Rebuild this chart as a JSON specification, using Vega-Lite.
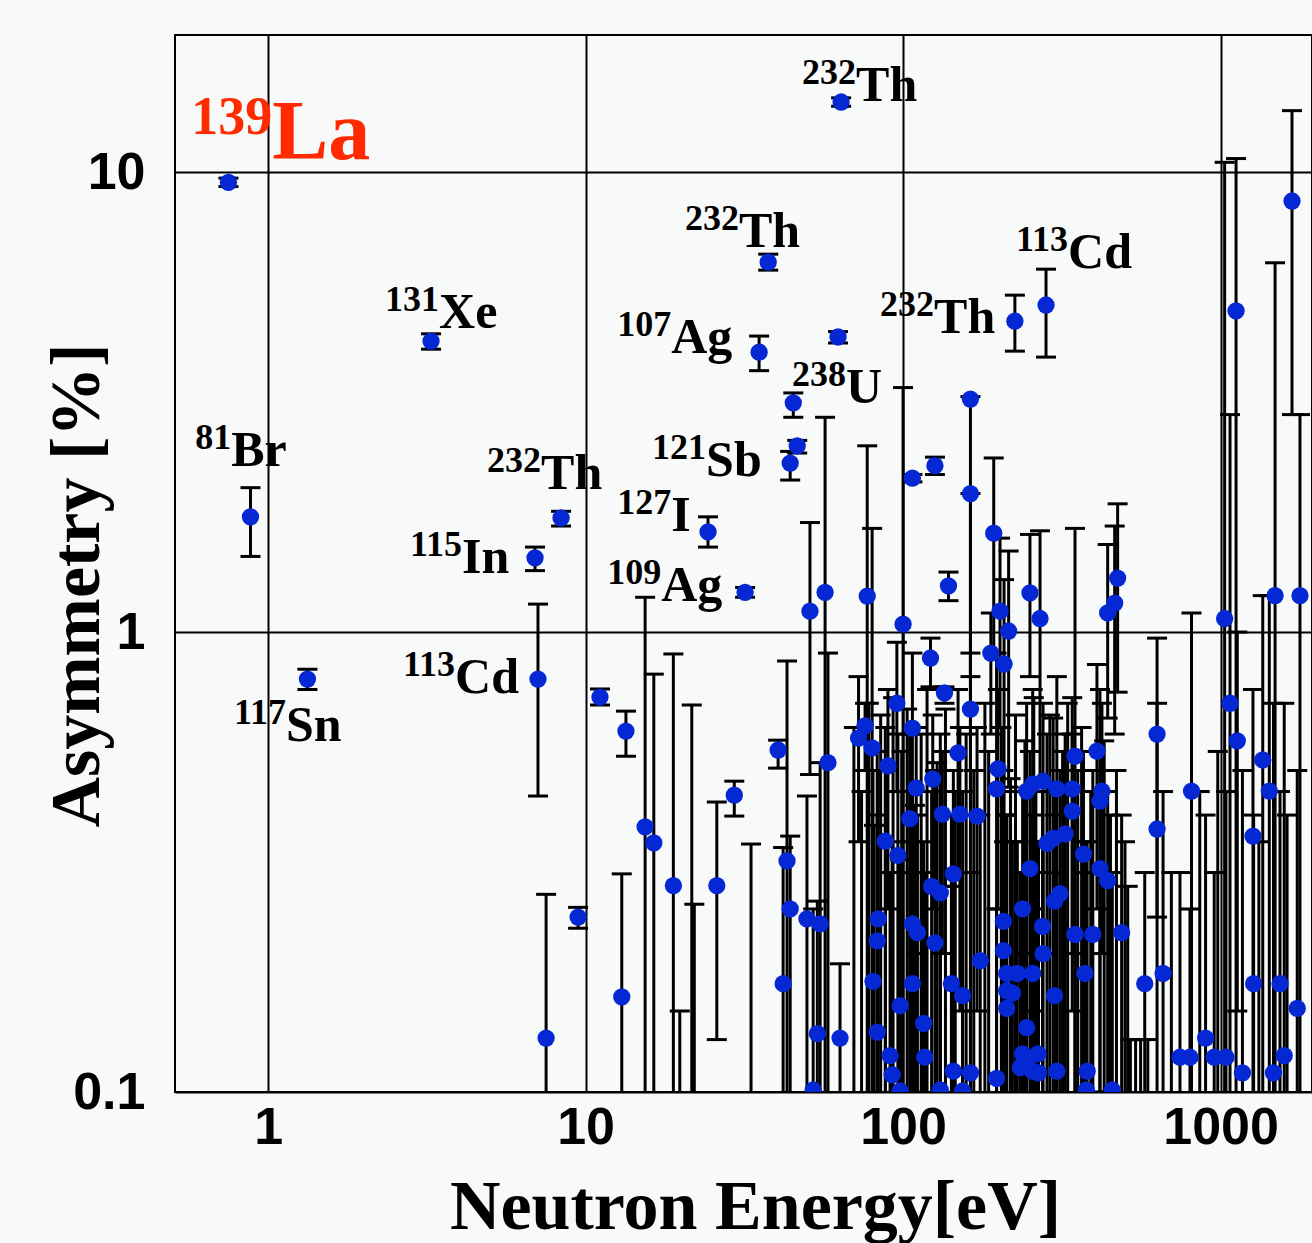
{
  "$schema": "https://vega.github.io/schema/vega-lite/v6.json",
  "width": 1137,
  "height": 1057,
  "autosize": {"type": "none"},
  "padding": {"left": 175, "top": 35, "right": 0, "bottom": 151},
  "background": "#f8f9f9",
  "config": {
    "view": {"stroke": "black", "strokeWidth": 2, "fill": "#f8f9f9"},
    "axis": {"labelOverlap": false}
  },
  "datasets": {
    "pts": [
      {"E":0.75,"A":9.5,"hi":9.7,"lo":9.3},
      {"E":0.88,"A":1.78,"hi":2.06,"lo":1.46},
      {"E":1.33,"A":0.79,"hi":0.83,"lo":0.75},
      {"E":3.26,"A":4.29,"hi":4.45,"lo":4.12},
      {"E":6.93,"A":1.45,"hi":1.53,"lo":1.36},
      {"E":8.37,"A":1.77,"hi":1.83,"lo":1.70},
      {"E":7.08,"A":0.79,"hi":1.15,"lo":0.44},
      {"E":31.8,"A":1.22,"hi":1.25,"lo":1.19},
      {"E":24.3,"A":1.65,"hi":1.78,"lo":1.53},
      {"E":35.2,"A":4.06,"hi":4.40,"lo":3.70},
      {"E":37.6,"A":6.37,"hi":6.63,"lo":6.12},
      {"E":63.8,"A":14.2,"hi":14.5,"lo":13.9},
      {"E":62.4,"A":4.38,"hi":4.5,"lo":4.25},
      {"E":45.1,"A":3.15,"hi":3.31,"lo":2.93},
      {"E":46.4,"A":2.54,"hi":2.61,"lo":2.45},
      {"E":44.1,"A":2.33,"hi":2.47,"lo":2.14},
      {"E":225,"A":4.74,"hi":5.40,"lo":4.08},
      {"E":282,"A":5.14,"hi":6.15,"lo":3.96},
      {"E":11.1,"A":0.722,"hi":0.752,"lo":0.694},
      {"E":13.4,"A":0.609,"hi":0.673,"lo":0.537},
      {"E":9.47,"A":0.240,"hi":0.252,"lo":0.227},
      {"E":7.51,"A":0.131,"hi":0.269,"lo":0.01},
      {"E":13.0,"A":0.161,"hi":0.298,"lo":0.01},
      {"E":15.4,"A":0.377,"hi":1.19,"lo":0.01},
      {"E":16.4,"A":0.348,"hi":0.81,"lo":0.01},
      {"E":18.9,"A":0.281,"hi":0.896,"lo":0.01},
      {"E":25.9,"A":0.281,"hi":0.427,"lo":0.130},
      {"E":29.4,"A":0.442,"hi":0.474,"lo":0.398},
      {"E":21.6,"A":0.05,"hi":0.694,"lo":0.01},
      {"E":22.0,"A":0.05,"hi":0.256,"lo":0.01},
      {"E":19.8,"A":0.05,"hi":0.150,"lo":0.01},
      {"E":33.2,"A":0.05,"hi":0.346,"lo":0.01},
      {"E":40.4,"A":0.554,"hi":0.582,"lo":0.506},
      {"E":43.1,"A":0.318,"hi":0.865,"lo":0.01},
      {"E":44.1,"A":0.25,"hi":0.36,"lo":0.01},
      {"E":49.8,"A":0.238,"hi":0.44,"lo":0.01},
      {"E":54.8,"A":0.232,"hi":0.52,"lo":0.01},
      {"E":41.9,"A":0.172,"hi":0.34,"lo":0.01},
      {"E":53.7,"A":0.134,"hi":0.26,"lo":0.01},
      {"E":63.3,"A":0.131,"hi":0.19,"lo":0.01},
      {"E":52.1,"A":0.101,"hi":0.25,"lo":0.01},
      {"E":50.9,"A":1.11,"hi":1.73,"lo":0.49},
      {"E":56.8,"A":1.22,"hi":2.93,"lo":0.01},
      {"E":58.0,"A":0.52,"hi":0.9,"lo":0.01},
      {"E":75.9,"A":0.625,"hi":0.70,"lo":0.50},
      {"E":72.4,"A":0.588,"hi":0.80,"lo":0.35},
      {"E":79.9,"A":0.56,"hi":1.68,"lo":0.01},
      {"E":77.1,"A":1.197,"hi":2.54,"lo":0.01},
      {"E":100,"A":1.04,"hi":3.4,"lo":0.01},
      {"E":95.6,"A":0.70,"hi":0.95,"lo":0.45},
      {"E":107,"A":0.618,"hi":0.9,"lo":0.3},
      {"E":89.6,"A":0.512,"hi":0.75,"lo":0.25},
      {"E":163,"A":3.21,"hi":3.25,"lo":0.01},
      {"E":163,"A":2.0,"hi":2.0,"lo":0.8},
      {"E":163,"A":0.68,"hi":0.9,"lo":0.4},
      {"E":149,"A":0.546,"hi":0.75,"lo":0.3},
      {"E":110,"A":0.458,"hi":0.62,"lo":0.2},
      {"E":124,"A":0.479,"hi":0.66,"lo":0.25},
      {"E":105,"A":0.393,"hi":0.6,"lo":0.1},
      {"E":87.9,"A":0.351,"hi":0.62,"lo":0.01},
      {"E":96.3,"A":0.327,"hi":0.6,"lo":0.01},
      {"E":133,"A":0.402,"hi":0.55,"lo":0.2},
      {"E":151,"A":0.402,"hi":0.62,"lo":0.15},
      {"E":171,"A":0.398,"hi":0.62,"lo":0.15},
      {"E":199,"A":0.504,"hi":0.75,"lo":0.25},
      {"E":197,"A":0.456,"hi":0.9,"lo":0.01},
      {"E":144,"A":0.298,"hi":0.5,"lo":0.01},
      {"E":123,"A":0.28,"hi":0.45,"lo":0.01},
      {"E":131,"A":0.271,"hi":0.6,"lo":0.01},
      {"E":245,"A":0.451,"hi":0.7,"lo":0.2},
      {"E":251,"A":0.306,"hi":0.55,"lo":0.05},
      {"E":83.5,"A":0.238,"hi":0.5,"lo":0.01},
      {"E":107,"A":0.232,"hi":0.45,"lo":0.01},
      {"E":82.9,"A":0.213,"hi":0.55,"lo":0.01},
      {"E":111,"A":0.222,"hi":0.4,"lo":0.01},
      {"E":126,"A":0.211,"hi":0.5,"lo":0.01},
      {"E":207,"A":0.235,"hi":0.5,"lo":0.01},
      {"E":238,"A":0.25,"hi":0.45,"lo":0.01},
      {"E":175,"A":0.193,"hi":0.4,"lo":0.01},
      {"E":207,"A":0.203,"hi":0.45,"lo":0.01},
      {"E":229,"A":0.181,"hi":0.35,"lo":0.01},
      {"E":80.4,"A":0.174,"hi":0.5,"lo":0.01},
      {"E":107,"A":0.172,"hi":0.35,"lo":0.01},
      {"E":142,"A":0.172,"hi":0.4,"lo":0.01},
      {"E":154,"A":0.162,"hi":0.45,"lo":0.01},
      {"E":97.9,"A":0.154,"hi":0.3,"lo":0.01},
      {"E":116,"A":0.141,"hi":0.35,"lo":0.01},
      {"E":82.9,"A":0.135,"hi":0.4,"lo":0.01},
      {"E":245,"A":0.138,"hi":0.3,"lo":0.01},
      {"E":91,"A":0.12,"hi":0.3,"lo":0.01},
      {"E":117,"A":0.119,"hi":0.3,"lo":0.01},
      {"E":92.4,"A":0.109,"hi":0.35,"lo":0.01},
      {"E":144,"A":0.111,"hi":0.28,"lo":0.01},
      {"E":163,"A":0.11,"hi":0.3,"lo":0.01},
      {"E":197,"A":0.107,"hi":0.25,"lo":0.01},
      {"E":245,"A":0.115,"hi":0.3,"lo":0.01},
      {"E":97.9,"A":0.1005,"hi":0.32,"lo":0.01},
      {"E":131,"A":0.101,"hi":0.28,"lo":0.01},
      {"E":154,"A":0.1005,"hi":0.3,"lo":0.01},
      {"E":256,"A":0.111,"hi":0.25,"lo":0.01},
      {"E":212,"A":0.166,"hi":0.4,"lo":0.01},
      {"E":107,"A":2.16,"hi":2.2,"lo":2.12},
      {"E":126,"A":2.3,"hi":2.4,"lo":2.2},
      {"E":193,"A":1.64,"hi":2.39,"lo":0.9},
      {"E":139,"A":1.26,"hi":1.35,"lo":1.17},
      {"E":202,"A":1.11,"hi":1.6,"lo":0.62},
      {"E":215,"A":1.005,"hi":1.5,"lo":0.46},
      {"E":122,"A":0.878,"hi":0.97,"lo":0.76},
      {"E":135,"A":0.737,"hi":0.76,"lo":0.70},
      {"E":189,"A":0.9,"hi":1.1,"lo":0.6},
      {"E":208,"A":0.852,"hi":1.3,"lo":0.35},
      {"E":251,"A":1.216,"hi":1.63,"lo":0.8},
      {"E":270,"A":1.07,"hi":1.66,"lo":0.48},
      {"E":474,"A":1.31,"hi":1.9,"lo":0.74},
      {"E":464,"A":1.156,"hi":1.7,"lo":0.6},
      {"E":441,"A":1.1,"hi":1.55,"lo":0.65},
      {"E":1030,"A":1.07,"hi":10.5,"lo":0.01},
      {"E":1119,"A":4.99,"hi":10.7,"lo":0.01},
      {"E":1679,"A":8.65,"hi":13.6,"lo":2.97},
      {"E":1485,"A":1.2,"hi":6.35,"lo":0.01},
      {"E":1779,"A":1.2,"hi":2.97,"lo":0.01},
      {"E":1071,"A":0.70,"hi":2.97,"lo":0.01},
      {"E":1129,"A":0.58,"hi":1.0,"lo":0.15},
      {"E":1358,"A":0.527,"hi":1.2,"lo":0.01},
      {"E":1424,"A":0.451,"hi":1.2,"lo":0.01},
      {"E":1265,"A":0.36,"hi":0.75,"lo":0.01},
      {"E":631,"A":0.60,"hi":0.97,"lo":0.24},
      {"E":631,"A":0.373,"hi":0.70,"lo":0.05},
      {"E":810,"A":0.451,"hi":1.1,"lo":0.01},
      {"E":577,"A":0.172,"hi":0.30,"lo":0.05},
      {"E":659,"A":0.181,"hi":0.45,"lo":0.01},
      {"E":1271,"A":0.172,"hi":0.4,"lo":0.01},
      {"E":1539,"A":0.172,"hi":0.45,"lo":0.01},
      {"E":1744,"A":0.152,"hi":0.5,"lo":0.01},
      {"E":897,"A":0.131,"hi":0.4,"lo":0.01},
      {"E":745,"A":0.119,"hi":0.3,"lo":0.01},
      {"E":801,"A":0.119,"hi":0.25,"lo":0.01},
      {"E":955,"A":0.119,"hi":0.3,"lo":0.01},
      {"E":1040,"A":0.119,"hi":0.45,"lo":0.01},
      {"E":1172,"A":0.11,"hi":0.5,"lo":0.01},
      {"E":1468,"A":0.11,"hi":0.7,"lo":0.01},
      {"E":1587,"A":0.12,"hi":0.7,"lo":0.01},
      {"E":348,"A":0.537,"hi":1.68,"lo":0.01},
      {"E":408,"A":0.551,"hi":0.85,"lo":0.25},
      {"E":256,"A":0.467,"hi":0.75,"lo":0.15},
      {"E":276,"A":0.474,"hi":0.7,"lo":0.2},
      {"E":305,"A":0.456,"hi":0.8,"lo":0.1},
      {"E":341,"A":0.456,"hi":0.72,"lo":0.15},
      {"E":423,"A":0.451,"hi":0.7,"lo":0.2},
      {"E":417,"A":0.429,"hi":0.75,"lo":0.1},
      {"E":341,"A":0.408,"hi":0.6,"lo":0.2},
      {"E":297,"A":0.356,"hi":0.65,"lo":0.01},
      {"E":324,"A":0.364,"hi":0.6,"lo":0.05},
      {"E":284,"A":0.347,"hi":0.6,"lo":0.01},
      {"E":370,"A":0.329,"hi":0.55,"lo":0.05},
      {"E":417,"A":0.306,"hi":0.5,"lo":0.05},
      {"E":441,"A":0.288,"hi":0.45,"lo":0.1},
      {"E":312,"A":0.27,"hi":0.5,"lo":0.01},
      {"E":300,"A":0.26,"hi":0.45,"lo":0.01},
      {"E":275,"A":0.229,"hi":0.45,"lo":0.01},
      {"E":348,"A":0.22,"hi":0.45,"lo":0.01},
      {"E":396,"A":0.22,"hi":0.5,"lo":0.01},
      {"E":488,"A":0.222,"hi":0.4,"lo":0.05},
      {"E":276,"A":0.2,"hi":0.35,"lo":0.01},
      {"E":212,"A":0.181,"hi":0.4,"lo":0.01},
      {"E":256,"A":0.181,"hi":0.4,"lo":0.01},
      {"E":374,"A":0.181,"hi":0.35,"lo":0.01},
      {"E":221,"A":0.164,"hi":0.35,"lo":0.01},
      {"E":212,"A":0.152,"hi":0.4,"lo":0.01},
      {"E":300,"A":0.162,"hi":0.4,"lo":0.01},
      {"E":238,"A":0.121,"hi":0.3,"lo":0.01},
      {"E":266,"A":0.121,"hi":0.3,"lo":0.01},
      {"E":305,"A":0.111,"hi":0.3,"lo":0.01},
      {"E":267,"A":0.11,"hi":0.35,"lo":0.01},
      {"E":234,"A":0.113,"hi":0.3,"lo":0.01},
      {"E":380,"A":0.111,"hi":0.35,"lo":0.01},
      {"E":378,"A":0.101,"hi":0.3,"lo":0.01},
      {"E":456,"A":0.101,"hi":0.3,"lo":0.01},
      {"E":520,"A":0.05,"hi":0.13,"lo":0.01},
      {"E":540,"A":0.05,"hi":0.13,"lo":0.01},
      {"E":560,"A":0.05,"hi":0.13,"lo":0.01},
      {"E":590,"A":0.05,"hi":0.13,"lo":0.01},
      {"E":700,"A":0.05,"hi":0.3,"lo":0.01},
      {"E":860,"A":0.05,"hi":0.45,"lo":0.01},
      {"E":980,"A":0.05,"hi":0.55,"lo":0.01},
      {"E":1320,"A":0.05,"hi":0.35,"lo":0.01},
      {"E":1620,"A":0.05,"hi":0.4,"lo":0.01},
      {"E":70,"A":0.05,"hi":0.62,"lo":0.01},
      {"E":74,"A":0.05,"hi":0.45,"lo":0.01},
      {"E":78,"A":0.05,"hi":0.7,"lo":0.01},
      {"E":81,"A":0.05,"hi":0.38,"lo":0.01},
      {"E":85,"A":0.05,"hi":0.66,"lo":0.01},
      {"E":88,"A":0.05,"hi":0.5,"lo":0.01},
      {"E":93,"A":0.05,"hi":0.72,"lo":0.01},
      {"E":99,"A":0.05,"hi":0.55,"lo":0.01},
      {"E":103,"A":0.05,"hi":0.68,"lo":0.01},
      {"E":109,"A":0.05,"hi":0.42,"lo":0.01},
      {"E":114,"A":0.05,"hi":0.6,"lo":0.01},
      {"E":119,"A":0.05,"hi":0.75,"lo":0.01},
      {"E":128,"A":0.05,"hi":0.52,"lo":0.01},
      {"E":136,"A":0.05,"hi":0.68,"lo":0.01},
      {"E":146,"A":0.05,"hi":0.45,"lo":0.01},
      {"E":158,"A":0.05,"hi":0.6,"lo":0.01},
      {"E":167,"A":0.05,"hi":0.5,"lo":0.01},
      {"E":181,"A":0.05,"hi":0.7,"lo":0.01},
      {"E":186,"A":0.05,"hi":0.55,"lo":0.01},
      {"E":204,"A":0.05,"hi":0.62,"lo":0.01},
      {"E":218,"A":0.05,"hi":0.48,"lo":0.01},
      {"E":226,"A":0.05,"hi":0.66,"lo":0.01},
      {"E":242,"A":0.05,"hi":0.58,"lo":0.01},
      {"E":258,"A":0.05,"hi":0.72,"lo":0.01},
      {"E":262,"A":0.05,"hi":0.45,"lo":0.01},
      {"E":290,"A":0.05,"hi":0.66,"lo":0.01},
      {"E":318,"A":0.05,"hi":0.55,"lo":0.01},
      {"E":330,"A":0.05,"hi":0.7,"lo":0.01},
      {"E":355,"A":0.05,"hi":0.5,"lo":0.01},
      {"E":365,"A":0.05,"hi":0.62,"lo":0.01},
      {"E":390,"A":0.05,"hi":0.45,"lo":0.01},
      {"E":430,"A":0.05,"hi":0.58,"lo":0.01},
      {"E":450,"A":0.05,"hi":0.4,"lo":0.01},
      {"E":470,"A":0.05,"hi":0.5,"lo":0.01},
      {"E":500,"A":0.05,"hi":0.35,"lo":0.01},
      {"E":510,"A":0.05,"hi":0.28,"lo":0.01}
    ],
    "labels": [
      {"E":0.765,"A":2.296,"sup":"81","el":"Br","red":false},
      {"E":1.139,"A":0.579,"sup":"117","el":"Sn","red":false},
      {"E":3.456,"A":4.58,"sup":"131","el":"Xe","red":false},
      {"E":7.24,"A":2.046,"sup":"232","el":"Th","red":false},
      {"E":4.08,"A":1.344,"sup":"115","el":"In","red":false},
      {"E":3.88,"A":0.737,"sup":"113","el":"Cd","red":false},
      {"E":30.4,"A":6.87,"sup":"232","el":"Th","red":false},
      {"E":18.6,"A":4.04,"sup":"107","el":"Ag","red":false},
      {"E":66.1,"A":3.15,"sup":"238","el":"U","red":false},
      {"E":23.96,"A":2.18,"sup":"121","el":"Sb","red":false},
      {"E":18.6,"A":1.658,"sup":"127","el":"I","red":false},
      {"E":17.3,"A":1.168,"sup":"109","el":"Ag","red":false},
      {"E":71.1,"A":14.27,"sup":"232","el":"Th","red":false},
      {"E":125.2,"A":4.467,"sup":"232","el":"Th","red":false},
      {"E":331,"A":6.18,"sup":"113","el":"Cd","red":false},
      {"E":1.03,"A":10.67,"sup":"139","el":"La","red":true}
    ]
  },
  "encoding": {
    "x": {
      "field": "E", "type": "quantitative",
      "scale": {"type": "log", "domain": [0.509, 1941], "nice": false},
      "axis": {
        "orient": "bottom", "values": [1, 10, 100, 1000], "format": "~g",
        "grid": true, "gridColor": "black", "gridWidth": 2, "gridOpacity": 1,
        "ticks": false, "domain": false,
        "labelFont": "Liberation Sans", "labelFontWeight": "bold", "labelFontSize": 52,
        "labelColor": "black", "labelPadding": 10, "labelFlush": false,
        "title": "Neutron Energy[eV]", "titleFont": "Liberation Serif", "titleFontSize": 70,
        "titleFontWeight": "bold", "titleColor": "black",
        "titleX": 580, "titleY": 136, "titleAlign": "center", "titleBaseline": "alphabetic"
      }
    },
    "y": {
      "field": "A", "type": "quantitative",
      "scale": {"type": "log", "domain": [0.1, 19.86], "nice": false},
      "axis": {
        "orient": "left", "values": [0.1, 1, 10], "format": "~g",
        "grid": true, "gridColor": "black", "gridWidth": 2, "gridOpacity": 1,
        "ticks": false, "domain": false,
        "labelFont": "Liberation Sans", "labelFontWeight": "bold", "labelFontSize": 52,
        "labelColor": "black", "labelPadding": 30, "labelFlush": false,
        "title": "Asymmetry [%]", "titleFont": "Liberation Serif", "titleFontSize": 70,
        "titleFontWeight": "bold", "titleColor": "black", "titleAngle": -90,
        "titleX": -77, "titleY": 550, "titleAlign": "center", "titleBaseline": "alphabetic"
      }
    }
  },
  "layer": [
    {
      "data": {"name": "pts"},
      "mark": {"type": "rule", "color": "black", "strokeWidth": 3, "clip": true},
      "encoding": {"y": {"field": "lo", "type": "quantitative"}, "y2": {"field": "hi"}}
    },
    {
      "data": {"name": "pts"},
      "mark": {"type": "tick", "orient": "horizontal", "color": "black", "size": 20, "thickness": 3, "opacity": 1, "clip": true},
      "encoding": {"y": {"field": "hi", "type": "quantitative"}}
    },
    {
      "data": {"name": "pts"},
      "mark": {"type": "tick", "orient": "horizontal", "color": "black", "size": 20, "thickness": 3, "opacity": 1, "clip": true},
      "encoding": {"y": {"field": "lo", "type": "quantitative"}}
    },
    {
      "data": {"name": "pts"},
      "mark": {"type": "circle", "color": "#0528d4", "size": 300, "opacity": 1, "clip": true}
    },
    {
      "data": {"name": "labels"},
      "transform": [{"filter": "!datum.red"}],
      "mark": {"type": "text", "align": "right", "baseline": "alphabetic", "dy": -17, "font": "Liberation Serif", "fontWeight": "bold", "fontSize": 36, "color": "black"},
      "encoding": {"text": {"field": "sup"}}
    },
    {
      "data": {"name": "labels"},
      "transform": [{"filter": "!datum.red"}],
      "mark": {"type": "text", "align": "left", "baseline": "alphabetic", "font": "Liberation Serif", "fontWeight": "bold", "fontSize": 50, "color": "black"},
      "encoding": {"text": {"field": "el"}}
    },
    {
      "data": {"name": "labels"},
      "transform": [{"filter": "datum.red"}],
      "mark": {"type": "text", "align": "right", "baseline": "alphabetic", "dy": -25, "font": "Liberation Serif", "fontWeight": "bold", "fontSize": 54, "color": "#ff2a00"},
      "encoding": {"text": {"field": "sup"}}
    },
    {
      "data": {"name": "labels"},
      "transform": [{"filter": "datum.red"}],
      "mark": {"type": "text", "align": "left", "baseline": "alphabetic", "font": "Liberation Serif", "fontWeight": "bold", "fontSize": 84, "color": "#ff2a00"},
      "encoding": {"text": {"field": "el"}}
    }
  ]
}
